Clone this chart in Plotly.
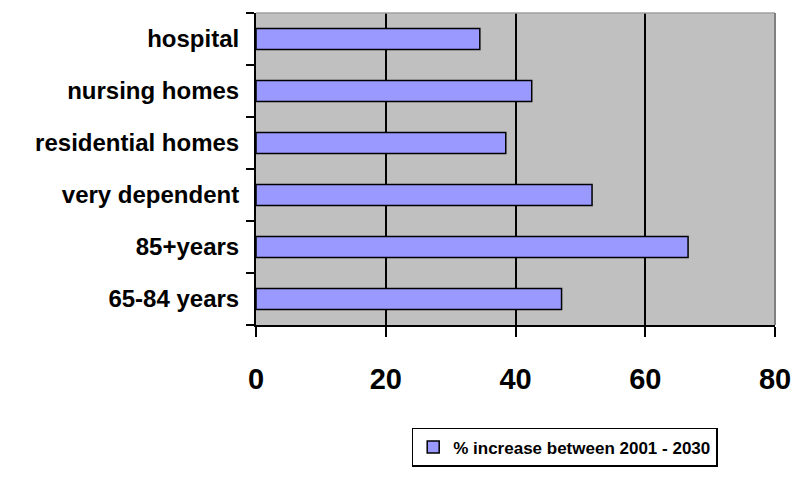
import plotly.graph_objects as go

categories = ["65-84 years", "85+years", "very dependent", "residential homes", "nursing homes", "hospital"]
values = [47.1, 66.6, 51.8, 38.5, 42.5, 34.5]
series_name = "% increase between 2001 - 2030"
x_ticks = [0, 20, 40, 60, 80]

fig = go.Figure()
fig.add_trace(go.Bar(
    y=categories,
    x=values,
    orientation="h",
    name=series_name,
    marker=dict(color="#9999FF", line=dict(color="black", width=1.5)),
    width=0.4,
    showlegend=True,
))

fig.update_layout(
    width=794,
    height=479,
    margin=dict(l=256, r=19, t=13, b=154),
    paper_bgcolor="white",
    plot_bgcolor="#C0C0C0",
    font=dict(family="Liberation Sans, Arial, sans-serif", color="black"),
    showlegend=True,
    legend=dict(
        x=0.30, y=-0.33, xanchor="left", yanchor="top",
        bordercolor="black", borderwidth=1.5,
        font=dict(size=17, family="Liberation Sans, Arial, sans-serif", weight="bold"),
        itemwidth=30,
        tracegroupgap=0,
    ),
    xaxis=dict(
        range=[0, 80],
        tickvals=x_ticks,
        ticktext=[str(v) for v in x_ticks],
        showgrid=True, gridcolor="black", gridwidth=2,
        showline=True, linecolor="black", linewidth=2,
        ticks="outside", ticklen=10, tickcolor="black", tickwidth=2,
        tickfont=dict(size=29, weight="bold"),
        ticklabelstandoff=17,
        zeroline=False,
        automargin=False,
        fixedrange=True,
    ),
    yaxis=dict(
        categoryorder="array", categoryarray=categories,
        showline=True, linecolor="black", linewidth=2,
        ticks="outside", ticklen=8, tickcolor="black", tickwidth=2,
        tickson="boundaries",
        tickfont=dict(size=24, weight="bold"),
        ticklabelstandoff=10,
        showgrid=False,
        automargin=False,
        fixedrange=True,
    ),
)

# grey frame on the top and right of the plot area
fig.add_shape(type="line", xref="paper", yref="paper", x0=0, x1=1, y0=1, y1=1,
              line=dict(color="#A0A0A0", width=1.5))
fig.add_shape(type="line", xref="paper", yref="paper", x0=1, x1=1, y0=0, y1=1,
              line=dict(color="#808080", width=2))

fig.write_html("out.html")
